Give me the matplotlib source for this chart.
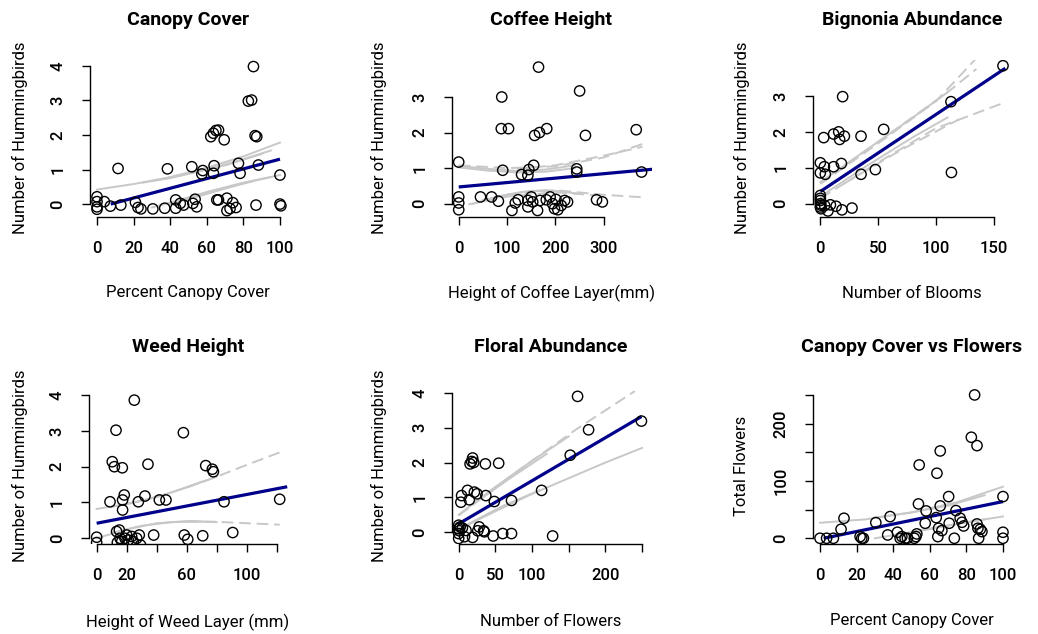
import matplotlib
matplotlib.use("Agg")
import matplotlib.pyplot as plt

plt.rcParams['font.family'] = ['Roboto', 'DejaVu Sans']

# ---------------- data ----------------
canopy_x = [0, 0, 0, 0, 4, 7.3, 11.5, 13, 21, 22.4, 24, 30.5, 37, 38.5, 43, 43, 45.5, 47.3,
            51.8, 52.4, 53.6, 54.5, 57.3, 57.8, 63.6, 64, 62.2, 63.6, 65, 66.4, 65.5, 66.4,
            69.5, 71, 71, 72.7, 74.2, 76, 77.3, 78.2, 82.7, 84.5, 85.5, 86.4, 87.3, 86.9,
            88.2, 100, 100, 100.5]
canopy_y = [0.21, 0.07, -0.08, -0.15, 0.07, -0.06, 1.03, -0.03, 0.05, -0.1, -0.14, -0.14,
            -0.12, 1.02, -0.12, 0.12, 0.02, -0.03, 1.08, 0.02, 0.14, -0.08, 0.87, 0.97, 0.89,
            1.11, 1.95, 2.05, 2.13, 2.14, 0.12, 0.12, 1.86, 0.17, -0.19, -0.13, 0.04, -0.1,
            1.18, 0.89, 2.98, 3.01, 3.98, 1.98, 1.95, -0.03, 1.13, 0.84, 0.0, -0.05]

coffee_x = [0, 0, 0, 0, 45, 68, 82, 89, 88, 103, 91, 110, 117, 123, 130, 143, 145, 155, 143,
            143, 150, 153, 157, 163, 165, 167, 168, 182, 181, 189, 194, 198, 205, 201, 212,
            219, 225, 244, 244, 250, 262, 285, 297, 367, 378]
coffee_y = [1.17, 0.19, 0.02, -0.17, 0.19, 0.19, 0.07, 3.0, 2.11, 2.11, 0.94, -0.19, 0.02,
            0.11, 0.82, 0.8, 0.96, 1.08, 0.09, -0.09, 0.19, 0.05, 1.92, -0.19, 3.84, 2.0,
            0.09, 2.11, 0.11, 0.19, 0.0, -0.14, -0.17, 0.12, -0.05, 0.09, 0.05, 0.98, 0.89,
            3.17, 1.92, 0.11, 0.05, 2.08, 0.89]

blooms_x = [0, 0, 0, 0, 0.6, 0, 0, 0, 0.5, 2.9, 3.5, 4.3, 3.7, 6.6, 8.7, 11.5, 11.5, 13.6,
            15.9, 16.7, 18.2, 19.3, 20.8, 18.7, 27.4, 35.2, 35.2, 47.6, 54.8, 113, 113.4, 158]
blooms_y = [0.23, 0.09, 0.0, -0.09, -0.14, 1.14, 0.86, 0.15, -0.04, 1.84, 1.03, 0.82, -0.05,
            -0.2, -0.03, 1.03, 1.94, -0.07, 2.0, 1.79, 1.12, 2.98, 1.88, -0.17, -0.12, 1.88,
            0.82, 0.95, 2.07, 2.84, 0.87, 3.84]

weed_x = [0, 0, 8.9, 10.4, 11.8, 12.9, 13.3, 13.8, 15.1, 15.6, 16.7, 17.1, 17.3, 17.3, 18.4,
          18.9, 20, 21.1, 23.3, 24.4, 25.1, 26.7, 27.8, 28.4, 29.3, 32.2, 34.2, 38, 41.8,
          46.2, 57.8, 58.4, 60.7, 70.7, 72.7, 77.1, 77.8, 84.9, 90.7, 122]
weed_y = [0.03, -0.12, 1.02, 2.14, 2.0, 3.02, 0.19, -0.12, 0.23, 0.0, -0.09, 1.97, 0.79,
          1.07, 1.21, 0.0, 0.09, -0.05, 0.05, -0.09, 3.86, 0.0, 1.02, 0.09, -0.19, 1.18,
          2.07, 0.09, 1.07, 1.07, 2.95, 0.09, -0.03, 0.07, 2.03, 1.93, 1.86, 1.02, 0.16, 1.09]

flowers_x = [0, 0, 0, 0, 1, 3, 4, 8, 12, 14.5, 15.5, 17.7, 19, 20.5, 19, 21.4, 25, 26, 28,
             34, 36.4, 37, 35, 47, 48.6, 54.5, 60, 72, 72, 113, 128, 152, 162, 177, 249,
             5, 10, 2]
flowers_y = [-0.18, -0.04, 0.1, 0.2, 0.04, 0.86, 1.05, -0.13, 1.2, 0.93, 1.96, 2.03, 2.13,
             2.0, -0.15, 1.15, 1.1, 0.04, 0.15, 0.04, 1.96, 1.05, 0.01, -0.11, 0.88, 1.98,
             -0.04, -0.04, 0.91, 1.2, -0.11, 2.21, 3.9, 2.94, 3.19, 0.12, 0.05, 0.15]

cc_x = [0, 3.6, 7.3, 11.5, 13.1, 21.9, 22.8, 23.7, 30.5, 37, 38.3, 42.3, 43.8, 44.7, 46.5,
        47.8, 51.5, 52.4, 52.9, 54.2, 53.8, 57.5, 58, 63.5, 63.9, 64.4, 64.8, 65.7, 65.7,
        66.6, 70.3, 70.6, 73.4, 74.3, 76.6, 77.6, 78.5, 82.7, 84.5, 85.8, 85.8, 86.3, 86.7,
        87.6, 88.5, 100, 100, 100]
cc_flowers = [0, 0, 0, 15.7, 34.9, 2.9, 0, 0, 27.3, 5.8, 37.8, 10.5, 0, 2.9, 0, 0, 0, 2.9,
              7.6, 127.9, 59.9, 26.2, 47.7, 36, 113.4, 2.9, 17.4, 152.3, 56.4, 13.4, 72.7,
              26.2, 0, 48.3, 34.9, 27.9, 21.5, 176.2, 250, 161.6, 25, 17.4, 0, 15.7, 11.6,
              72.7, 10.5, 0]

# fitted lines (blue)
canopy_fit_x, canopy_fit_y = [7.5, 100], [0.0, 1.3]
coffee_fit_x, coffee_fit_y = [0, 410], [0.47, 0.98]
blooms_fit_x, blooms_fit_y = [0, 160], [0.34, 3.77]
weed_fit_x, weed_fit_y = [0, 127], [0.42, 1.44]
flowers_fit_x, flowers_fit_y = [0, 249], [0.24, 3.32]
cc_fit_x, cc_fit_y = [2, 100], [0.0, 64]

# confidence curves (grey), (x, y, dashed?)
canopy_ci = [
    ([0, 20, 40, 60, 80, 100], [0.42, 0.58, 0.78, 1.05, 1.38, 1.78], False),
    ([25, 40, 60, 80, 95], [0.62, 0.75, 1.0, 1.3, 1.55], False),
    ([35, 50, 70, 90], [0.72, 0.88, 1.12, 1.45], False),
    ([30, 45, 60, 80, 100], [-0.1, 0.12, 0.35, 0.62, 0.84], False),
    ([40, 55, 70, 85], [0.0, 0.22, 0.45, 0.66], False),
    ([48, 60, 78, 95], [0.12, 0.3, 0.58, 0.78], False),
]
coffee_ci = [
    ([0, 60, 120, 180, 240], [1.06, 0.98, 0.92, 0.96, 1.08], False),
    ([0, 60, 120, 180, 240], [1.02, 0.93, 0.88, 0.9, 1.0], False),
    ([0, 100, 200, 300, 380], [1.08, 1.0, 1.05, 1.3, 1.68], True),
    ([120, 200, 300, 380], [0.98, 1.08, 1.35, 1.6], True),
    ([30, 80, 130, 180, 230], [0.0, 0.2, 0.33, 0.38, 0.32], False),
    ([50, 100, 150, 200, 250], [0.1, 0.25, 0.36, 0.36, 0.28], False),
    ([100, 200, 300, 380], [0.25, 0.38, 0.25, 0.18], True),
    ([20, 100, 200, 300], [-0.02, 0.2, 0.32, 0.22], True),
]
blooms_ci = [
    ([0, 40, 80, 110], [0.6, 1.5, 2.4, 3.1], False),
    ([0, 50, 100, 135], [0.55, 1.68, 2.85, 4.05], True),
    ([10, 60, 110, 135], [0.82, 1.95, 3.1, 3.75], True),
    ([0, 40, 80, 110], [0.2, 1.05, 1.85, 2.4], False),
    ([0, 50, 100, 158], [0.15, 1.15, 2.1, 2.8], True),
    ([20, 70, 120], [0.55, 1.5, 2.35], True),
]
weed_ci = [
    ([0, 20, 40, 60, 80], [0.82, 0.95, 1.15, 1.42, 1.72], False),
    ([10, 30, 50, 70], [0.88, 1.05, 1.28, 1.58], False),
    ([60, 80, 100, 122], [1.42, 1.72, 2.05, 2.4], True),
    ([0, 20, 40, 60, 80], [0.0, 0.25, 0.42, 0.48, 0.45], False),
    ([10, 30, 50, 70], [0.15, 0.35, 0.45, 0.47], False),
    ([60, 80, 100, 122], [0.48, 0.46, 0.42, 0.38], True),
]
flowers_ci = [
    ([0, 50, 100, 150], [0.5, 1.3, 2.05, 2.75], False),
    ([0, 80, 160, 240], [0.48, 1.75, 2.95, 4.05], True),
    ([20, 70, 120], [0.8, 1.55, 2.25], False),
    ([0, 50, 100, 150, 200, 250], [0.08, 0.6, 1.1, 1.55, 2.0, 2.42], False),
    ([10, 60, 110], [0.2, 0.75, 1.2], False),
]
cc_ci = [
    ([0, 25, 50, 75, 100], [27, 33, 45, 63, 90], False),
    ([30, 50, 70, 90], [36, 45, 57, 75], False),
    ([30, 45, 60, 80, 100], [0, 8, 17, 28, 38], False),
    ([40, 55, 70, 90], [4, 13, 22, 33], False),
]

titles = ["Canopy Cover", "Coffee Height", "Bignonia Abundance",
          "Weed Height", "Floral Abundance", "Canopy Cover vs Flowers"]
xlabels = ["Percent Canopy Cover", "Height of Coffee Layer(mm)", "Number of Blooms",
           "Height of Weed Layer (mm)", "Number of Flowers", "Percent Canopy Cover"]
ylabels = ["Number of Hummingbirds"] * 5 + ["Total Flowers"]

xticks = [[0, 20, 40, 60, 80, 100], [0, 100, 200, 300], [0, 50, 100, 150],
          [0, 20, 40, 60, 80, 100, 120], [0, 50, 100, 150, 200, 250], [0, 20, 40, 60, 80, 100]]
xticklabels = [["0", "20", "40", "60", "80", "100"], ["0", "100", "200", "300"],
               ["0", "50", "100", "150"], ["0", "20", "", "60", "", "100", ""],
               ["0", "50", "100", "", "200", ""], ["0", "20", "40", "60", "80", "100"]]
yticks = [[0, 1, 2, 3, 4], [0, 1, 2, 3], [0, 1, 2, 3], [0, 1, 2, 3, 4], [0, 1, 2, 3, 4],
          [0, 50, 100, 150, 200, 250]]
yticklabels = [["0", "1", "2", "3", "4"], ["0", "1", "2", "3"], ["0", "1", "2", "3"],
               ["0", "1", "2", "3", "4"], ["0", "1", "2", "3", "4"],
               ["0", "", "100", "", "200", ""]]

# ---------------- layout (pixels) ----------------
W, H = 1038, 634
fig = plt.figure(figsize=(W / 100, H / 100), dpi=100)

# left, right, top, bottom in pixels ; xlim ; ylim
panels = [
    (89.7, 287.3, 60, 216.5, (-4, 104), (-0.36, 4.17)),
    (451.7, 651.7, 60, 216.5, (-14.5, 399), (-0.36, 4.04)),
    (812.7, 1012.7, 60, 216.5, (-6.6, 166.4), (-0.355, 4.0)),
    (89.0, 289.0, 389.4, 544, (-5.1, 128.2), (-0.16, 4.16)),
    (451.7, 651.7, 389.4, 544, (-9.5, 263), (-0.34, 4.1)),
    (812.7, 1010.3, 389.2, 544, (-4, 104), (-10, 260)),
]
title_pos = [(188, 20), (551, 20), (912, 20), (188, 347), (551, 347), (912, 347)]
xlab_pos = [(188, 293), (551, 293), (912, 293), (188, 622), (551, 622), (912, 621)]
ylab_pos = [(20, 138), (379, 138), (742, 138), (20, 466), (379, 466), (742, 466)]

series = [(canopy_x, canopy_y, canopy_fit_x, canopy_fit_y, canopy_ci),
          (coffee_x, coffee_y, coffee_fit_x, coffee_fit_y, coffee_ci),
          (blooms_x, blooms_y, blooms_fit_x, blooms_fit_y, blooms_ci),
          (weed_x, weed_y, weed_fit_x, weed_fit_y, weed_ci),
          (flowers_x, flowers_y, flowers_fit_x, flowers_fit_y, flowers_ci),
          (cc_x, cc_flowers, cc_fit_x, cc_fit_y, cc_ci)]

grey = "#C8C8C8"
blue = "#00008B"

for i, (l, r, t, b, xl, yl) in enumerate(panels):
    ax = fig.add_axes([l / W, 1 - b / H, (r - l) / W, (b - t) / H])
    ax.set_facecolor("none")
    x, y, fx, fy, ci = series[i]
    for cx, cy, dashed in ci:
        if dashed:
            ax.plot(cx, cy, color=grey, lw=1.4, dashes=(6, 3), zorder=1)
        else:
            ax.plot(cx, cy, color=grey, lw=1.4, zorder=1)
    ax.plot(fx, fy, color=blue, lw=2.3, zorder=2, solid_capstyle="butt")
    ax.scatter(x, y, s=55, facecolors="none", edgecolors="black", linewidths=1.0, zorder=3)
    ax.set_xlim(*xl)
    ax.set_ylim(*yl)
    for s in ("top", "right"):
        ax.spines[s].set_visible(False)
    ax.spines["left"].set_bounds(yticks[i][0], yticks[i][-1])
    ax.spines["bottom"].set_bounds(xticks[i][0], xticks[i][-1])
    for s in ("left", "bottom"):
        ax.spines[s].set_linewidth(1.0)
    ax.set_xticks(xticks[i])
    ax.set_xticklabels(xticklabels[i], fontweight="medium")
    ax.set_yticks(yticks[i])
    ax.set_yticklabels(yticklabels[i], rotation=90, va="center", fontweight="medium")
    ax.tick_params(axis="both", direction="out", length=5.5, width=1.0,
                   labelsize=12, pad=12)
    fx_, fy_ = title_pos[i]
    fig.text(fx_ / W, 1 - fy_ / H, titles[i], ha="center", va="center",
             fontsize=14, fontweight="bold")
    fx_, fy_ = xlab_pos[i]
    fig.text(fx_ / W, 1 - fy_ / H, xlabels[i], ha="center", va="center", fontsize=12)
    fx_, fy_ = ylab_pos[i]
    fig.text(fx_ / W, 1 - fy_ / H, ylabels[i], ha="center", va="center", fontsize=12,
             rotation=90)

fig.savefig("out.png", dpi=100)
